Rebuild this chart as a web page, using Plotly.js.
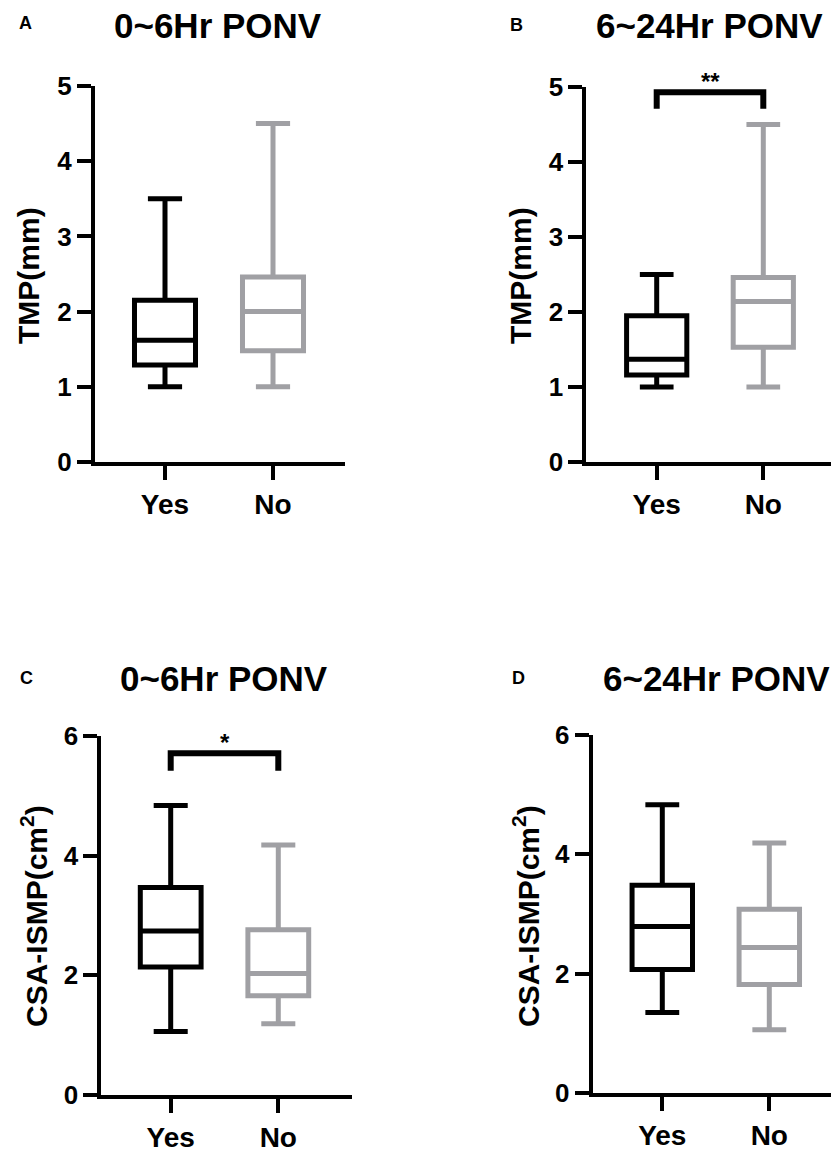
<!DOCTYPE html>
<html>
<head>
<meta charset="utf-8">
<script src="https://cdn.plot.ly/plotly-3.0.1.min.js"></script>
<style>html,body{margin:0;padding:0;background:#fff;}#chart{width:831px;height:1166px;}</style>
</head>
<body>
<div id="chart"></div>
<script>
// ---------------- DATA ----------------
const groups = ['Yes', 'No'];
// box stats: [min, q1, median, q3, max]
const tmp0to6Yes  = [1.00, 1.29, 1.62, 2.15, 3.50];
const tmp0to6No   = [1.00, 1.48, 2.00, 2.46, 4.50];
const tmp6to24Yes = [1.00, 1.16, 1.37, 1.95, 2.50];
const tmp6to24No  = [1.00, 1.53, 2.14, 2.46, 4.50];
const csa0to6Yes  = [1.06, 2.14, 2.74, 3.47, 4.84];
const csa0to6No   = [1.19, 1.66, 2.03, 2.76, 4.18];
const csa6to24Yes = [1.35, 2.07, 2.79, 3.48, 4.83];
const csa6to24No  = [1.06, 1.82, 2.44, 3.08, 4.19];
// significance brackets: [leg bottom, top]
const bracketB = [4.71, 4.93];
const bracketC = [5.42, 5.71];
const starsB = '**';
const starsC = '*';
const panelTitles = ['0~6Hr PONV', '6~24Hr PONV', '0~6Hr PONV', '6~24Hr PONV'];
const panelLetters = ['A', 'B', 'C', 'D'];
const yTitles = ['TMP(mm)', 'TMP(mm)', 'CSA-ISMP(cm<sup>2</sup>)', 'CSA-ISMP(cm<sup>2</sup>)'];

// ---------------- LAYOUT HELPERS ----------------
const W = 831, H = 1166;
const BLACK = '#000000', GRAY = '#A0A0A4';
const FONT = '"Liberation Sans", Arial, sans-serif';
const px = x => x / W;
const py = y => 1 - y / H;

// pixel geometry of each panel: left, right, top(y max), bottom(y 0), yes tick x, no tick x
const geo = [
  {l: 95,    r: 345, t: 86,  b: 462,  yes: 165,   no: 273,   ymax: 5, dt: 1},
  {l: 586.3, r: 831, t: 87,  b: 462,  yes: 656.7, no: 763.3, ymax: 5, dt: 1},
  {l: 101.3, r: 352, t: 736, b: 1095, yes: 170.7, no: 278.3, ymax: 6, dt: 2},
  {l: 592.7, r: 831, t: 735, b: 1093, yes: 662.3, no: 769.3, ymax: 6, dt: 2}
];
const stats = [[tmp0to6Yes, tmp0to6No], [tmp6to24Yes, tmp6to24No], [csa0to6Yes, csa0to6No], [csa6to24Yes, csa6to24No]];

const traces = [];
const layout = {
  width: W, height: H,
  margin: {l: 0, r: 0, t: 0, b: 0},
  paper_bgcolor: '#fff', plot_bgcolor: 'rgba(0,0,0,0)',
  showlegend: false,
  boxmode: 'overlay',
  font: {family: FONT, color: BLACK},
  annotations: []
};

geo.forEach((g, i) => {
  const n = i + 1;
  const xs = n === 1 ? 'x' : 'x' + n;
  const ys = n === 1 ? 'y' : 'y' + n;
  const spacing = g.no - g.yes;
  const a = -(g.yes - g.l) / spacing;
  const b = a + (g.r - g.l) / spacing;
  const common = {
    showline: true, linewidth: 4, linecolor: BLACK,
    ticks: 'outside', ticklen: 14, tickwidth: 4, tickcolor: BLACK,
    showgrid: false, zeroline: false, fixedrange: true
  };
  layout['xaxis' + (n === 1 ? '' : n)] = Object.assign({}, common, {
    domain: [px(g.l), px(g.r)], anchor: ys,
    type: 'category', categoryorder: 'array', categoryarray: groups,
    range: [a, b],
    tickfont: {family: FONT, size: 28, weight: 'bold', color: BLACK}
  });
  layout['yaxis' + (n === 1 ? '' : n)] = Object.assign({}, common, {
    domain: [py(g.b), py(g.t)], anchor: xs,
    range: [0, g.ymax], dtick: g.dt, tick0: 0,
    tickfont: {family: FONT, size: 26, weight: 'bold', color: BLACK}
  });
  [0, 1].forEach(k => {
    const s = stats[i][k];
    const col = k === 0 ? BLACK : GRAY;
    traces.push({
      type: 'box', xaxis: xs, yaxis: ys,
      x: [groups[k]],
      lowerfence: [s[0]], q1: [s[1]], median: [s[2]], q3: [s[3]], upperfence: [s[4]],
      width: 0.565, whiskerwidth: 0.56,
      line: {color: col, width: 5},
      fillcolor: 'rgba(255,255,255,0)',
      boxpoints: false, hoverinfo: 'skip'
    });
  });
});

// significance brackets
function addBracket(n, br, stars) {
  const xs = 'x' + n, ys = 'y' + n;
  traces.push({
    type: 'scatter', mode: 'lines', xaxis: xs, yaxis: ys,
    x: [groups[0], groups[0], groups[1], groups[1]],
    y: [br[0], br[1], br[1], br[0]],
    line: {color: BLACK, width: 6}, hoverinfo: 'skip', cliponaxis: false
  });
  layout.annotations.push({
    xref: xs, yref: ys, x: 0.5, y: br[1], yanchor: 'bottom', xanchor: 'center',
    yshift: -5,
    text: stars, showarrow: false,
    font: {family: FONT, size: 24, weight: 'bold', color: BLACK}
  });
}
addBracket(2, bracketB, starsB);
addBracket(3, bracketC, starsC);

// panel titles
const titlePos = [
  {x: 218, y: 25.5, anchor: 'center'},
  {x: 594, y: 25.5, anchor: 'left'},
  {x: 224, y: 678.5, anchor: 'center'},
  {x: 600.7, y: 678.5, anchor: 'left'}
];
titlePos.forEach((p, i) => {
  layout.annotations.push({
    xref: 'paper', yref: 'paper', x: px(p.x), y: py(p.y),
    xanchor: p.anchor, yanchor: 'middle', showarrow: false,
    text: panelTitles[i],
    font: {family: FONT, size: 35, weight: 'bold', color: BLACK}
  });
});
// panel letters
const letterPos = [{x: 25.5, y: 23.5}, {x: 516.7, y: 25}, {x: 26.5, y: 677.5}, {x: 518, y: 678}];
letterPos.forEach((p, i) => {
  layout.annotations.push({
    xref: 'paper', yref: 'paper', x: px(p.x), y: py(p.y),
    xanchor: 'center', yanchor: 'middle', showarrow: false,
    text: panelLetters[i],
    font: {family: FONT, size: 18, weight: 'bold', color: BLACK}
  });
});
// y-axis titles
const yTitlePos = [{x: 28, y: 276}, {x: 520, y: 276}, {x: 34, y: 916}, {x: 526, y: 916}];
yTitlePos.forEach((p, i) => {
  layout.annotations.push({
    xref: 'paper', yref: 'paper', x: px(p.x), y: py(p.y),
    xanchor: 'center', yanchor: 'middle', showarrow: false, textangle: -90,
    text: yTitles[i],
    font: {family: FONT, size: 30, weight: 'bold', color: BLACK}
  });
});

Plotly.newPlot('chart', traces, layout, {displayModeBar: false, staticPlot: true});
</script>
</body>
</html>
